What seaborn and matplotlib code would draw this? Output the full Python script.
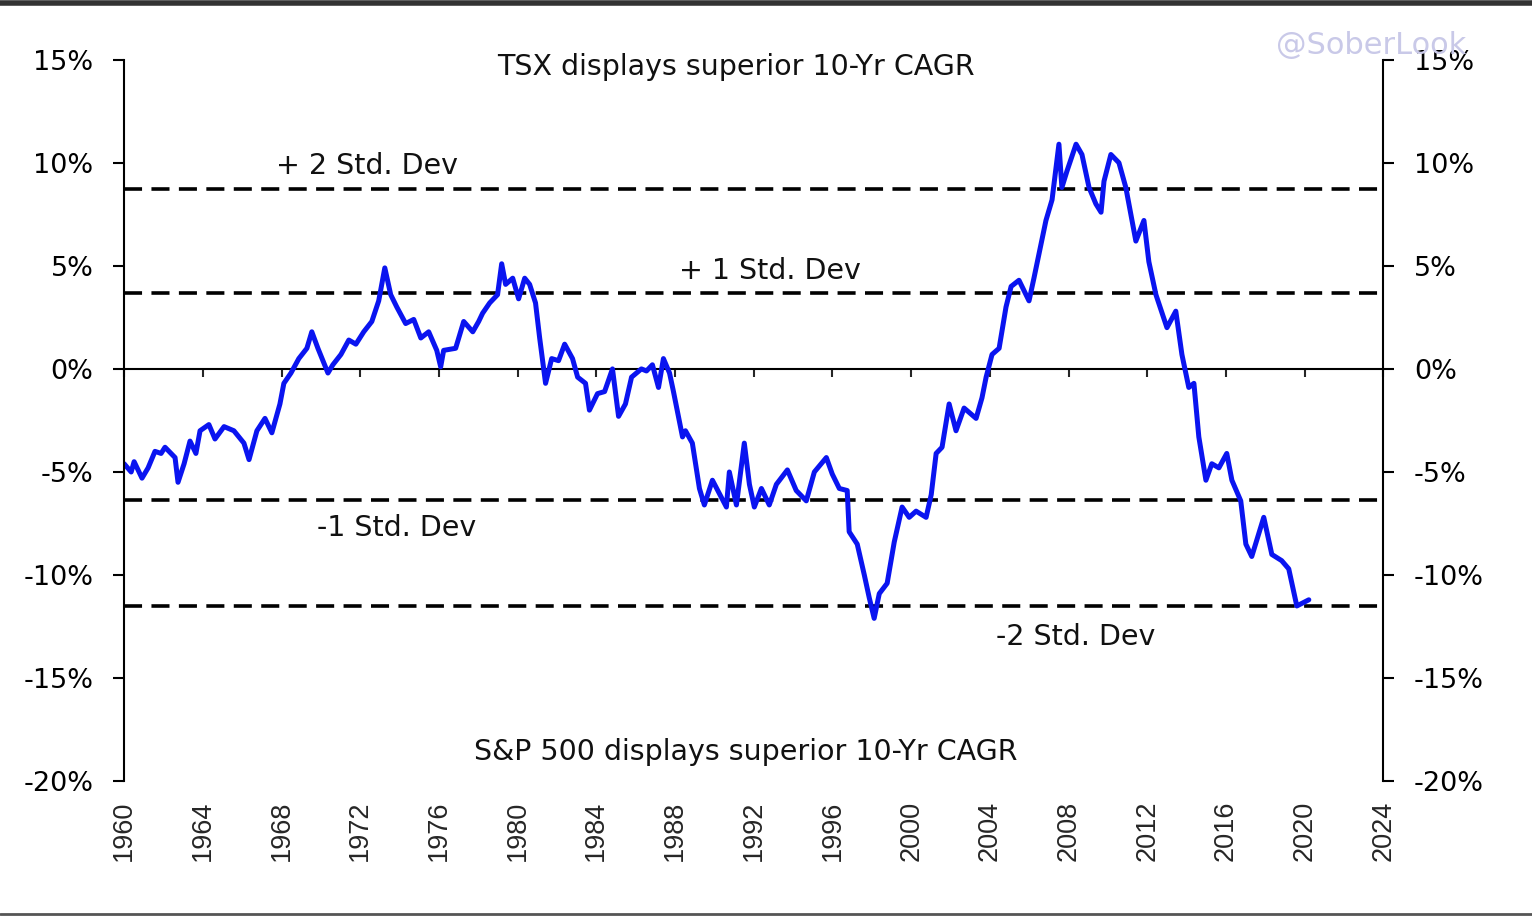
import numpy as np
import pandas as pd
import seaborn as sns
import matplotlib
matplotlib.use("Agg")
import matplotlib.pyplot as plt
from matplotlib.lines import Line2D
from matplotlib.ticker import FuncFormatter

# dados (ano decimal, diferenca de CAGR 10 anos em %)
anos = [1960.00, 1960.36, 1960.51, 1960.91, 1961.22, 1961.57, 1961.88, 1962.08, 1962.59, 1962.74,
        1963.05, 1963.35, 1963.65, 1963.86, 1964.31, 1964.62, 1965.08, 1965.58, 1966.09, 1966.35,
        1966.75, 1967.16, 1967.51, 1967.92, 1968.12, 1968.48, 1968.88, 1969.29, 1969.54, 1969.85,
        1970.36, 1970.61, 1971.02, 1971.42, 1971.78, 1972.18, 1972.59, 1972.94, 1973.25, 1973.55,
        1973.86, 1974.31, 1974.72, 1975.08, 1975.48, 1975.89, 1976.09, 1976.24, 1976.85, 1977.26,
        1977.72, 1978.02, 1978.22, 1978.58, 1978.98, 1979.19, 1979.39, 1979.75, 1980.05, 1980.36,
        1980.61, 1980.91, 1981.12, 1981.42, 1981.73, 1982.08, 1982.39, 1982.79, 1983.05, 1983.45,
        1983.65, 1984.06, 1984.42, 1984.82, 1985.13, 1985.48, 1985.79, 1986.29, 1986.55, 1986.85,
        1987.16, 1987.41, 1987.72, 1987.92, 1988.38, 1988.53, 1988.88, 1989.24, 1989.49, 1989.90,
        1990.61, 1990.76, 1991.12, 1991.52, 1991.78, 1992.03, 1992.39, 1992.79, 1993.15, 1993.71,
        1994.16, 1994.67, 1995.08, 1995.69, 1995.99, 1996.35, 1996.75, 1996.85, 1997.26, 1997.62,
        1997.87, 1998.12, 1998.38, 1998.78, 1999.14, 1999.54, 1999.90, 2000.25, 2000.76, 2001.02,
        2001.27, 2001.57, 2001.93, 2002.28, 2002.69, 2003.30, 2003.60, 2003.81, 2004.11, 2004.47,
        2004.82, 2005.08, 2005.48, 2005.99, 2006.24, 2006.50, 2006.85, 2007.16, 2007.51, 2007.66,
        2007.92, 2008.38, 2008.68, 2009.04, 2009.39, 2009.65, 2009.80, 2010.15, 2010.56, 2010.91,
        2011.42, 2011.83, 2012.08, 2012.44, 2013.00, 2013.45, 2013.76, 2014.11, 2014.37, 2014.62,
        2014.98, 2015.28, 2015.64, 2016.04, 2016.30, 2016.75, 2017.01, 2017.31, 2017.92, 2018.33,
        2018.83, 2019.19, 2019.60, 2020.21]
valores = [-4.6, -5.0, -4.5, -5.3, -4.8, -4.0, -4.1, -3.8, -4.3, -5.5,
           -4.6, -3.5, -4.1, -3.0, -2.7, -3.4, -2.8, -3.0, -3.6, -4.4,
           -3.0, -2.4, -3.1, -1.7, -0.7, -0.2, 0.5, 1.0, 1.8, 1.0,
           -0.2, 0.2, 0.7, 1.4, 1.2, 1.8, 2.3, 3.3, 4.9, 3.6,
           3.0, 2.2, 2.4, 1.5, 1.8, 0.9, 0.1, 0.9, 1.0, 2.3,
           1.8, 2.3, 2.7, 3.2, 3.6, 5.1, 4.1, 4.4, 3.4, 4.4,
           4.1, 3.2, 1.5, -0.7, 0.5, 0.4, 1.2, 0.5, -0.4, -0.7,
           -2.0, -1.2, -1.1, 0.0, -2.3, -1.7, -0.4, 0.0, -0.1, 0.2,
           -0.9, 0.5, -0.2, -1.1, -3.3, -3.0, -3.6, -5.8, -6.6, -5.4,
           -6.7, -5.0, -6.6, -3.6, -5.6, -6.7, -5.8, -6.6, -5.6, -4.9,
           -5.9, -6.4, -5.0, -4.3, -5.1, -5.8, -5.9, -7.9, -8.5, -10.0,
           -11.1, -12.1, -10.9, -10.4, -8.4, -6.7, -7.2, -6.9, -7.2, -6.1,
           -4.1, -3.8, -1.7, -3.0, -1.9, -2.4, -1.4, -0.4, 0.7, 1.0,
           3.0, 4.0, 4.3, 3.3, 4.4, 5.6, 7.2, 8.2, 10.9, 8.8,
           9.6, 10.9, 10.4, 8.8, 8.0, 7.6, 9.1, 10.4, 10.0, 8.8,
           6.2, 7.2, 5.2, 3.6, 2.0, 2.8, 0.7, -0.9, -0.7, -3.3,
           -5.4, -4.6, -4.8, -4.1, -5.4, -6.4, -8.5, -9.1, -7.2, -9.0,
           -9.3, -9.7, -11.5, -11.2]

# linhas de desvio padrao
niveis_dp = [8.74, 3.69, -6.36, -11.50]
rotulos_dp = ["+ 2 Std. Dev", "+ 1 Std. Dev", "-1 Std. Dev", "-2 Std. Dev"]
pos_rotulos_dp = [(1967.7, 9.85), (1988.2, 4.75), (1969.8, -7.7), (2004.3, -13.0)]

ticks_x = list(range(1960, 2025, 4))
ticks_y = [15, 10, 5, 0, -5, -10, -15, -20]

tabela = pd.DataFrame({"ano": anos, "valor": valores})

sns.set_style("white")
plt.rcParams["font.family"] = ["Liberation Sans", "DejaVu Sans"]
plt.rcParams["axes.unicode_minus"] = False
fonte_larga = ["DejaVu Sans"]  # o texto do original e mais largo que Arial
tam = 19.5
tam_texto = 20.5

fig = plt.figure(figsize=(15.32, 9.18), dpi=100)
ax = fig.add_axes([0.081, 0.149, 0.822, 0.786])

sns.lineplot(data=tabela, x="ano", y="valor", ax=ax, color="#0a14f0",
             linewidth=3.6, estimator=None, sort=False)

for nivel in niveis_dp:
    ax.axhline(nivel, color="black", linewidth=2.6, linestyle=(0, (5, 2.6)), zorder=1)
ax.axhline(0, color="black", linewidth=1.5, zorder=1)

for texto, (px, py) in zip(rotulos_dp, pos_rotulos_dp):
    ax.text(px, py, texto, fontsize=tam_texto, ha="left", va="center", family=fonte_larga, color="#111111")

ax.text(1991.1, 14.65, "TSX displays superior 10-Yr CAGR", fontsize=tam_texto, ha="center", va="center",
        family=fonte_larga, color="#111111")
ax.text(1991.6, -18.6, "S&P 500 displays superior 10-Yr CAGR", fontsize=tam_texto, ha="center", va="center",
        family=fonte_larga, color="#111111")

ax.set_xlim(1960, 2024)
ax.set_ylim(-20, 15)
ax.set_xlabel("")
ax.set_ylabel("")

# eixos: esquerdo e direito visiveis, eixo x sobre o zero
ax.spines["top"].set_visible(False)
for lado in ["left", "right"]:
    ax.spines[lado].set_visible(True)
    ax.spines[lado].set_color("black")
    ax.spines[lado].set_linewidth(1.5)
ax.spines["bottom"].set_position(("data", 0))
ax.spines["bottom"].set_visible(False)

ax.set_yticks(ticks_y)
ax.yaxis.set_major_formatter(FuncFormatter(lambda v, p: f"{v:.0f}%"))
ax.tick_params(axis="y", which="major", left=True, right=True, labelleft=True, labelright=True,
               direction="out", length=8, width=1.5, labelsize=tam, pad=14, colors="black")
for t in ax.yaxis.get_major_ticks():
    t.label1.set_family(fonte_larga)
    t.label2.set_family(fonte_larga)

ax.set_xticks(ticks_x)
ax.tick_params(axis="x", bottom=True, labelbottom=False, direction="out", length=6, width=1.5)

# rotulos dos anos embaixo do grafico
sec = ax.secondary_xaxis(0.0)
sec.set_xticks(ticks_x)
sec.set_xticklabels([str(a) for a in ticks_x], rotation=90)
sec.tick_params(length=0, labelsize=19.5, pad=14)
sec.spines["bottom"].set_visible(False)

# marca d'agua e bordas da figura
fig.text(0.895, 0.950, "@SoberLook", fontsize=22, color="#c9c9e8", ha="center", va="center",
         family=fonte_larga)
fig.add_artist(Line2D([0, 1], [0.997, 0.997], transform=fig.transFigure, color="#333333", linewidth=4))
fig.add_artist(Line2D([0, 1], [0.004, 0.004], transform=fig.transFigure, color="#555555", linewidth=2))

plt.savefig("out.png", dpi=100)
